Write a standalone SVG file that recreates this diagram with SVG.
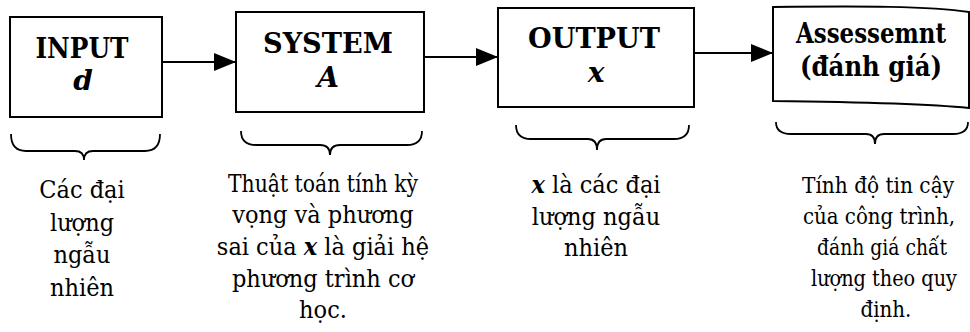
<svg xmlns="http://www.w3.org/2000/svg" width="970" height="332" viewBox="0 0 970 332">
<defs>
<marker id="ah" markerUnits="userSpaceOnUse" markerWidth="24" markerHeight="20" refX="22" refY="9" orient="auto">
<path d="M0,0 L22,9 L0,18 Z" fill="#000"/>
</marker>
<style>
.box{fill:#fff;stroke:#000;stroke-width:2}
.t{font-family:'DejaVu Serif',serif;font-weight:bold;font-size:27px;text-anchor:middle;fill:#000}
.v{font-family:'DejaVu Serif',serif;font-weight:bold;font-style:italic;font-size:28px;text-anchor:middle;fill:#000}
.d{font-family:'DejaVu Serif Condensed','DejaVu Serif',serif;font-stretch:condensed;font-size:25px;text-anchor:middle;fill:#000}
.r{font-family:'DejaVu Serif Condensed','DejaVu Serif',serif;font-stretch:condensed;font-size:22px;text-anchor:middle;fill:#000}
.c{fill:none;stroke:#000;stroke-width:2}
.br{fill:none;stroke:#000;stroke-width:1.8}
</style>
</defs>
<rect width="970" height="332" fill="#fff"/>
<g id="connectors">
<line class="c" x1="162" y1="62" x2="236" y2="62" marker-end="url(#ah)"/>
<line class="c" x1="424" y1="57" x2="498" y2="57" marker-end="url(#ah)"/>
<line class="c" x1="694" y1="53" x2="773" y2="53" marker-end="url(#ah)"/>
</g>
<g id="input">
<rect class="box" x="10" y="17" width="152" height="100"/>
<text class="t" x="82" y="58" textLength="93" lengthAdjust="spacingAndGlyphs">INPUT</text>
<text class="v" x="83" y="90">d</text>
</g>
<g id="system">
<rect class="box" x="236" y="12" width="188" height="100"/>
<text class="t" x="328" y="53" textLength="130" lengthAdjust="spacingAndGlyphs">SYSTEM</text>
<text class="v" x="328" y="87">A</text>
</g>
<g id="output">
<rect class="box" x="498" y="8" width="196" height="99"/>
<text class="t" x="594" y="48" textLength="132" lengthAdjust="spacingAndGlyphs">OUTPUT</text>
<text class="v" x="596" y="82">x</text>
</g>
<g id="assessment">
<path class="box" d="M773,7 C860,6 930,6 969,12 L969,108 C930,104 860,102 773,101 Z"/>
<text class="t" x="871" y="43" font-size="22" textLength="150" lengthAdjust="spacingAndGlyphs">Assessemnt</text>
<text class="t" x="871" y="76" font-size="24" textLength="142" lengthAdjust="spacingAndGlyphs">(đánh giá)</text>
</g>
<g id="braces">
<path class="br" d="M11,134 Q11,151 26,151 L75,151 Q84,151 84,160 Q84,151 93,151 L145,151 Q160,151 160,134"/>
<path class="br" d="M241,131 Q241,145 256,145 L320,145 Q330,145 330,155 Q330,145 340,145 L407,145 Q422,145 422,131"/>
<path class="br" d="M516,125 Q516,139 531,139 L588,139 Q597,139 597,150 Q597,139 606,139 L674,139 Q689,139 689,125"/>
<path class="br" d="M776,122 Q776,134 791,134 L866,134 Q875,134 875,144 Q875,134 884,134 L953,134 Q968,134 968,122"/>
</g>
<g id="desc-input">
<text class="d" x="82" y="198">Các đại</text>
<text class="d" x="82" y="231">lượng</text>
<text class="d" x="82" y="263">ngẫu</text>
<text class="d" x="82" y="296">nhiên</text>
</g>
<g id="desc-system">
<text class="d" x="323" y="192" textLength="190" lengthAdjust="spacingAndGlyphs">Thuật toán tính kỳ</text>
<text class="d" x="323" y="223">vọng và phương</text>
<text class="d" x="323" y="255">sai của <tspan font-weight="bold" font-style="italic">x</tspan> là giải hệ</text>
<text class="d" x="323" y="287">phương trình cơ</text>
<text class="d" x="323" y="318">học.</text>
</g>
<g id="desc-output">
<text class="d" x="596" y="193"><tspan font-weight="bold" font-style="italic">x</tspan> là các đại</text>
<text class="d" x="596" y="225">lượng ngẫu</text>
<text class="d" x="596" y="256">nhiên</text>
</g>
<g id="desc-assessment">
<text class="r" x="878" y="193" textLength="152" lengthAdjust="spacingAndGlyphs">Tính độ tin cậy</text>
<text class="r" x="879" y="224" textLength="152" lengthAdjust="spacingAndGlyphs">của công trình,</text>
<text class="r" x="882" y="255" textLength="130" lengthAdjust="spacingAndGlyphs">đánh giá chất</text>
<text class="r" x="884" y="286" textLength="146" lengthAdjust="spacingAndGlyphs">lượng theo quy</text>
<text class="r" x="886" y="317">định.</text>
</g>
</svg>
